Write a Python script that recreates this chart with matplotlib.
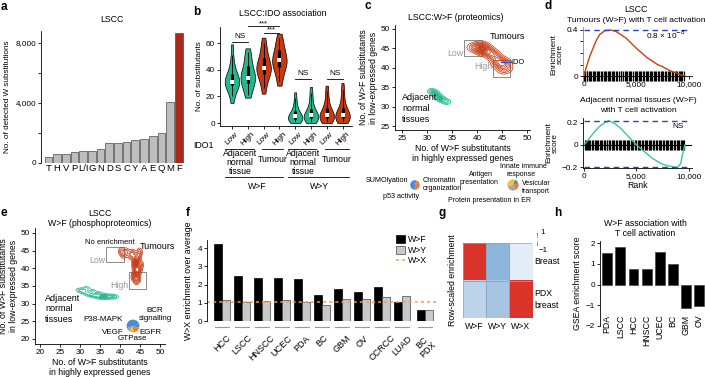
import numpy as np
import matplotlib
matplotlib.use("Agg")
import matplotlib.pyplot as plt
from matplotlib.lines import Line2D
from matplotlib.patches import Rectangle, Patch
from matplotlib.colors import LinearSegmentedColormap

plt.rcParams['font.family'] = ['Liberation Sans', 'DejaVu Sans']
plt.rcParams['font.size'] = 5.9
plt.rcParams['axes.linewidth'] = 0.6
plt.rcParams['xtick.major.width'] = 0.6
plt.rcParams['ytick.major.width'] = 0.6
plt.rcParams['xtick.major.size'] = 2
plt.rcParams['ytick.major.size'] = 2
plt.rcParams['xtick.major.pad'] = 1.5
plt.rcParams['ytick.major.pad'] = 1.5

# ---- data ----
# a: detected W substitutions (LSCC)
a_residues = ['T', 'H', 'V', 'P', 'L/I', 'G', 'N', 'D', 'S', 'C', 'Y', 'A', 'E', 'Q', 'M', 'F']
a_counts = [380, 580, 580, 715, 830, 830, 960, 1340, 1340, 1430, 1520, 1630, 1830, 1970, 4090, 8670]

# b: violin samples (no. of substitutants), order: W>F adj low/high, tumour low/high, W>Y same
b_samples = [
    [15, 22, 26, 28, 29, 30, 31, 31, 32, 33, 35, 38, 42, 48, 59],
    [19, 22, 26, 29, 31, 33, 34, 34, 36, 38, 41, 44, 48, 52, 56],
    [22, 28, 33, 36, 38, 40, 41, 41, 42, 44, 47, 50, 54, 58, 64],
    [28, 33, 37, 41, 43, 45, 46, 47, 48, 50, 53, 56, 59, 62, 67],
    [0, 1, 2, 3, 3, 4, 4, 5, 5, 6, 8, 10, 13, 17, 23],
    [0, 1, 2, 3, 4, 5, 5, 6, 6, 7, 9, 12, 16, 21, 27],
    [0, 1, 2, 3, 4, 5, 6, 6, 7, 8, 10, 13, 17, 22, 28],
    [0, 1, 2, 3, 4, 5, 6, 6, 7, 8, 10, 13, 18, 23, 30],
]
b_ticklabels = ['Low', 'High'] * 4

# c: proteomics sample positions (high-expr, low-expr)
c_tum_x = [39.0, 39.8, 40.5, 41.0, 41.5, 42.0, 42.5, 43.0, 43.5, 44.0, 44.5, 45.0, 45.5, 46.0, 45.2, 44.8, 41.2, 40.8, 42.8, 43.8, 45.8, 40.6, 41.4, 44.2]
c_tum_y = [45.2, 45.5, 45.0, 45.8, 44.5, 44.8, 44.0, 43.5, 43.0, 42.5, 41.8, 41.0, 40.5, 39.8, 39.3, 41.2, 44.2, 44.6, 43.8, 42.0, 41.5, 45.2, 45.3, 40.6]
c_adj_x = [30.8, 31.2, 31.5, 32.0, 32.3, 32.7, 33.0, 33.5, 34.0, 31.8, 32.5]
c_adj_y = [34.0, 33.5, 33.8, 33.0, 32.5, 32.0, 31.8, 31.5, 31.2, 33.2, 32.2]
c_pie1 = [55, 45]
c_pie2 = [35, 30, 20, 15]

# d: running enrichment scores
d_tum_rank = [0, 200, 540, 1170, 1490, 2000, 2500, 3000, 3500, 4000, 4500, 5000, 5500, 6000, 6500, 7000, 7500, 8000, 8500, 9000, 9500]
d_tum_es = [0, 0.07, 0.17, 0.31, 0.36, 0.395, 0.40, 0.39, 0.36, 0.33, 0.285, 0.24, 0.20, 0.16, 0.13, 0.10, 0.08, 0.055, 0.035, 0.02, 0]
d_adj_rank = [0, 500, 1000, 1500, 2000, 2400, 3000, 3500, 4000, 4500, 5000, 5500, 6000, 6500, 7000, 7500, 8000, 8500, 8900, 9200, 9400, 9600]
d_adj_es = [0, 0.06, 0.12, 0.17, 0.205, 0.22, 0.19, 0.15, 0.10, 0.05, 0.0, -0.04, -0.08, -0.12, -0.15, -0.175, -0.19, -0.20, -0.205, -0.17, -0.08, 0]
d_hits_tum = [40, 130, 260, 330, 470, 610, 700, 820, 980, 1090, 1200, 1370, 1450, 1610, 1700, 1880, 2010, 2090, 2250, 2400, 2480,
              2620, 2790, 2900, 3050, 3170, 3310, 3480, 3560, 3720, 3880, 3990, 4100, 4280, 4390, 4520, 4690, 4810, 4940, 5070,
              5220, 5300, 5470, 5590, 5730, 5880, 5960, 6120, 6270, 6350, 6510, 6660, 6790, 6880, 7050, 7180, 7290, 7450, 7560,
              7720, 7850, 7990, 8080, 8230, 8380, 8470, 8620, 8770, 8880, 9010, 9150, 9270, 9380, 9500]
d_hits_adj = [60, 170, 240, 390, 520, 590, 760, 850, 1010, 1130, 1260, 1340, 1500, 1640, 1730, 1860, 2030, 2150, 2220, 2380, 2520,
              2640, 2730, 2880, 3020, 3140, 3290, 3390, 3540, 3680, 3790, 3930, 4060, 4190, 4330, 4440, 4580, 4700, 4860, 4970,
              5120, 5250, 5380, 5490, 5640, 5780, 5900, 6030, 6170, 6300, 6420, 6580, 6700, 6840, 6960, 7110, 7230, 7370, 7490,
              7640, 7780, 7900, 8030, 8170, 8290, 8420, 8560, 8690, 8820, 8950, 9090, 9210, 9340, 9460, 9570]

# e: phosphoproteomics sample positions
e_tum_x = [40.3, 40.9, 41.6, 42.6, 43.2, 43.6, 44.0, 44.2, 44.4, 44.0, 43.8, 44.5, 44.1, 43.7, 44.3, 44.6, 43.9, 44.2, 44.8, 43.5, 45.2, 44.9]
e_tum_y = [44.8, 44.0, 44.6, 43.8, 44.2, 43.0, 42.0, 41.0, 40.0, 39.0, 38.0, 37.2, 36.5, 40.5, 42.5, 43.5, 41.5, 38.5, 39.5, 37.5, 41.0, 44.6]
e_adj_x = [30.0, 30.8, 31.6, 32.5, 33.2, 34.0, 34.8, 35.5, 36.2, 37.0, 37.8, 38.6, 31.5, 33.0, 34.5, 36.0]
e_adj_y = [33.8, 33.5, 33.0, 32.6, 32.4, 32.2, 32.0, 31.8, 32.0, 31.8, 32.1, 31.9, 34.2, 33.4, 32.8, 32.3]
e_pie = [60, 20, 10, 10]

# f: W>X enrichment over average
f_cancers = ['HCC', 'LSCC', 'HNSCC', 'UCEC', 'PDA', 'BC', 'GBM', 'OV', 'CCRCC', 'LUAD', 'BC\nPDX']
f_wf = [4.2, 2.45, 2.35, 2.35, 2.32, 1.45, 1.75, 1.6, 1.85, 1.05, 0.6]
f_wy = [1.15, 1.05, 1.12, 1.15, 1.05, 0.88, 1.2, 1.2, 1.3, 1.35, 0.58]
f_wx = 1.05

# g: row-scaled enrichment
g_cols = ['W>F', 'W>Y', 'W>X']
g_rows = ['Breast', 'PDX\nbreast']
g_vals = [[1.0, -0.55, -0.1],
          [-0.3, -0.42, 1.0]]

# h: GSEA enrichment score
h_cancers = ['PDA', 'LSCC', 'HCC', 'HNSCC', 'UCEC', 'BC', 'GBM', 'OV']
h_scores = [1.5, 1.8, 0.75, 0.75, 1.55, 0.98, -1.15, -1.05]

GREEN = '#25b68c'
RED = '#c53a12'
DARKRED = '#a8281a'
BLUE = '#2b3fc0'
PIE_COLS = ['#4a8fd6', '#ef7d3a', '#f8c12d', '#a6a6a6']

W, H = 705, 377
fig = plt.figure(figsize=(7.05, 3.77), dpi=100)


def px_axes(l, t, r, b):
    return fig.add_axes([l / W, 1 - b / H, (r - l) / W, (b - t) / H])


def ftext(x, y, s, **kw):
    kw.setdefault('ha', 'center')
    kw.setdefault('va', 'center')
    fig.text(x / W, 1 - y / H, s, **kw)


def fline(x1, x2, y, color='black', lw=0.6):
    fig.add_artist(Line2D([x1 / W, x2 / W], [1 - y / H, 1 - y / H],
                          transform=fig.transFigure, color=color, lw=lw))


def kde(xs, ys, xlim, ylim, bw):
    xg = np.linspace(xlim[0], xlim[1], 260)
    yg = np.linspace(ylim[0], ylim[1], 260)
    X, Y = np.meshgrid(xg, yg)
    Z = np.zeros_like(X)
    for x, y in zip(xs, ys):
        Z += np.exp(-((X - x) ** 2 / (2 * bw[0] ** 2) + (Y - y) ** 2 / (2 * bw[1] ** 2)))
    return X, Y, Z


def density(ax, xs, ys, color, bw, nlev=7):
    X, Y, Z = kde(xs, ys, ax.get_xlim(), ax.get_ylim(), bw)
    levels = np.linspace(0.1, 0.95, nlev) * Z.max()
    ax.contour(X, Y, Z, levels=levels, colors=color, linewidths=0.55)
    ax.contourf(X, Y, Z, levels=[levels[-2], Z.max() * 1.01], colors=color, alpha=0.85)


def clean(ax):
    ax.spines['top'].set_visible(False)
    ax.spines['right'].set_visible(False)


for lab, x, y in [('a', 4, 7), ('b', 197, 12), ('c', 368, 6), ('d', 548, 6),
                  ('e', 4, 213), ('f', 188, 213), ('g', 442, 213), ('h', 558, 213)]:
    ftext(x, y, lab, fontsize=8.5, fontweight='bold')

# ---- a ----
ax = px_axes(41, 31, 184, 163)
clean(ax)
ax.spines['bottom'].set_visible(False)
xa = np.arange(len(a_counts))
cols = ['#bdbdbd'] * (len(a_counts) - 1) + [DARKRED]
ax.bar(xa, a_counts, width=0.88, color=cols, edgecolor='#4a4a4a', lw=0.5)
ax.set_xlim(-0.85, 15.6)
ax.set_ylim(0, 8800)
ax.set_yticks([0, 2000, 4000, 6000, 8000])
ax.set_yticklabels(['0', '', '4,000', '', '8,000'])
ax.set_xticks(xa)
ax.set_xticklabels(a_residues, fontsize=6.8)
ax.tick_params(axis='x', length=0, pad=1)
ax.set_ylabel('No. of detected W substitutions', labelpad=3)
ftext(112, 20, 'LSCC', fontsize=6.3)

# ---- b ----
ax = px_axes(220, 27, 352, 125.7)
clean(ax)
pos = np.arange(1, 9)
vp = ax.violinplot(b_samples, positions=pos, widths=0.92, showextrema=False, bw_method=0.55)
for i, body in enumerate(vp['bodies']):
    body.set_facecolor(GREEN if i in (0, 1, 4, 5) else RED)
    body.set_edgecolor('black')
    body.set_linewidth(0.5)
    body.set_alpha(1)
for p, s in zip(pos, b_samples):
    lo, q1, med, q3, hi = np.percentile(s, [5, 25, 50, 75, 95])
    ax.vlines(p, lo, hi, color='black', lw=0.6)
    ax.vlines(p, q1, q3, color='black', lw=2.2)
    ax.plot(p, med, 's', color='white', ms=2.4, mew=0)
ax.set_xlim(0.24, 8.6)
ax.set_ylim(-2, 72)
ax.set_yticks([0, 20, 40, 60])
ax.set_xticks(pos)
ax.set_xticklabels(b_ticklabels, rotation=45)
ax.set_ylabel('No. of substitutants', labelpad=2)
for x1, x2, y, txt in [(1, 2, 60.5, 'NS'), (5, 6, 33, 'NS'), (7, 8, 33, 'NS')]:
    ax.plot([x1, x2], [y, y], color='black', lw=0.6)
    ax.text((x1 + x2) / 2, y + 1.5, txt, ha='center', va='bottom')
ax.plot([3, 4], [67.5, 67.5], color='black', lw=0.6, clip_on=False)
ax.text(3.5, 67.0, '***', ha='center', va='bottom', fontsize=5.5, clip_on=False)
ax.plot([2, 4], [72.5, 72.5], color='black', lw=0.6, clip_on=False)
ax.text(3, 72.0, '***', ha='center', va='bottom', fontsize=5.5, clip_on=False)
ftext(283, 14, 'LSCC:IDO association', fontsize=6.3)
ftext(204, 145, 'IDO1', fontsize=6.3)
for cx, ca, ct, gx, gname in [(240, (225, 254), (262, 283), 257, 'W>F'),
                              (303, (288, 316), (325, 349), 320, 'W>Y')]:
    fline(ca[0], ca[1], 149)
    fline(ct[0], ct[1], 149)
    ftext(cx, 163, 'Adjacent\nnormal\ntissue', linespacing=1.0, fontsize=6.3)
    ftext((ct[0] + ct[1]) / 2, 160, 'Tumour', fontsize=6.3)
    fline(ca[0], ct[1], 177)
    ftext(gx, 186, gname, fontsize=6.3)

# ---- c ----
ax = px_axes(395, 25, 530, 130)
clean(ax)
ax.set_xlim(23.6, 50.6)
ax.set_ylim(23.97, 51.03)
ax.set_xticks([25, 30, 35, 40, 45, 50])
ax.set_yticks([25, 30, 35, 40, 45, 50])
density(ax, c_adj_x, c_adj_y, GREEN, (0.45, 0.4), 6)
density(ax, c_tum_x, c_tum_y, RED, (0.85, 0.75), 10)
ax.add_patch(Rectangle((37.4, 43.0), 3.6, 4.2, fill=False, ec='#777', lw=0.6))
ax.add_patch(Rectangle((43.2, 37.6), 3.4, 4.4, fill=False, ec='#777', lw=0.6))
ax.plot([44.8, 46.8], [41.4, 41.4], color='#3d4fd0', lw=1.0)
ax.text(46.9, 41.4, 'IDO', va='center', ha='left', fontsize=5.3, clip_on=False)
ax.text(37.2, 43.8, 'Low', color='#999', ha='right', va='center', fontsize=6.3)
ax.text(43.0, 40.4, 'High', color='#999', ha='right', va='center', fontsize=6.3)
ax.text(42.6, 48.0, 'Tumours', ha='left', va='center', fontsize=6.5)
ax.text(25.0, 33.5, 'Adjacent\nnormal\ntissues', ha='left', va='top', fontsize=6.5, linespacing=1.25)
ax.set_xlabel('No. of W>F substitutants\nin highly expressed genes', labelpad=1.5, fontsize=6.3)
ax.set_ylabel('No. of W>F substitutants\nin low-expressed genes', labelpad=2, fontsize=6.3)
ftext(456, 17, 'LSCC:W>F (proteomics)', fontsize=6.3)

pa = px_axes(409, 179, 421, 191)
pa.pie(c_pie1, colors=[PIE_COLS[0], PIE_COLS[1]], startangle=70)
ftext(408, 180, 'SUMOlyation', ha='right', fontsize=5.2)
ftext(423, 185, 'Chromatin\norganization', ha='left', fontsize=5.2)
ftext(401, 196, 'p53 activity', fontsize=5.2)
pa = px_axes(506, 178, 520, 192)
pa.pie(c_pie2, colors=[PIE_COLS[2], PIE_COLS[3], PIE_COLS[1], PIE_COLS[0]], startangle=70)
ftext(481, 174, 'Antigen', fontsize=5.0)
ftext(479, 182, 'presentation', fontsize=5.0)
ftext(500, 166, 'Innate immune', ha='left', fontsize=5.0)
ftext(521, 174, 'response', fontsize=5.0)
ftext(522, 188, 'Vesicular\ntransport', ha='left', fontsize=5.0)
ftext(489, 200, 'Protein presentation in ER', fontsize=5.0)

# ---- d ----
ax = px_axes(583, 27, 692, 82)
clean(ax)
ax.spines['bottom'].set_position(('data', 0))
ax.spines['left'].set_color('#888')
ax.set_xlim(-95, 10286)
ax.set_ylim(-0.052, 0.426)
ax.vlines(d_hits_tum, -0.045, 0.045, color='black', lw=0.9)
ax.plot(d_tum_rank, d_tum_es, color='#c8400e', lw=1.0)
ax.plot([0, 10000], [0.4, 0.4], color=BLUE, lw=1.0, dashes=(4, 3))
ax.set_yticks([0, 0.1, 0.2, 0.3, 0.4])
ax.set_yticklabels(['0', '', '', '', '0.4'])
ax.set_xticks([0, 5000, 10000])
ax.set_xticklabels(['0', '5,000', '10,000'])
ax.text(9700, 0.355, '0.8 × 10$^{-8}$', ha='right', va='center')
ax.set_ylabel('Enrichment\nscore', labelpad=2, linespacing=1.0)
ftext(636, 10, 'LSCC', fontsize=6.3)
ftext(636, 20, 'Tumours (W>F) with T cell activation', fontsize=6.1)

ax = px_axes(583, 118, 692, 168)
clean(ax)
ax.set_xlim(-95, 10286)
ax.set_ylim(-0.209, 0.245)
ax.axhline(0, color='black', lw=0.8)
ax.vlines(d_hits_adj, -0.045, 0.045, color='black', lw=0.9)
ax.plot(d_adj_rank, d_adj_es, color='#3cc49b', lw=1.0)
ax.plot([0, 10000], [0.22, 0.22], color=BLUE, lw=1.0, dashes=(4, 3))
ax.plot([0, 10000], [-0.2, -0.2], color=BLUE, lw=1.0, dashes=(4, 3))
ax.set_yticks([-0.2, 0, 0.2])
ax.set_yticklabels(['−0.2', '0', '0.2'])
ax.set_xticks([0, 5000, 10000])
ax.set_xticklabels(['0', '5,000', '10,000'])
ax.text(9500, 0.17, 'NS', ha='right', va='center')
ax.set_ylabel('Enrichment\nscore', labelpad=2, linespacing=1.0)
ax.set_xlabel('Rank', labelpad=0.5, fontsize=6.3)
ftext(638, 100, 'Adjacent normal tissues (W>F)', fontsize=6.1)
ftext(638, 111, 'with T cell activation', fontsize=6.1)

# ---- e ----
ax = px_axes(35, 228, 165, 344)
clean(ax)
ax.set_xlim(18.75, 51.25)
ax.set_ylim(18.55, 51.4)
ax.set_xticks([20, 25, 30, 35, 40, 45, 50])
ax.set_yticks([20, 25, 30, 35, 40, 45, 50])
density(ax, e_adj_x, e_adj_y, GREEN, (0.6, 0.35), 6)
density(ax, e_tum_x, e_tum_y, RED, (0.45, 0.75), 9)
ax.add_patch(Rectangle((36.5, 41.8), 4.5, 4.2, fill=False, ec='#777', lw=0.6))
ax.add_patch(Rectangle((42.3, 34.1), 4.2, 4.9, fill=False, ec='#777', lw=0.6))
ax.text(36.3, 42.1, 'Low', color='#999', ha='right', va='center', fontsize=6.3)
ax.text(42.1, 35.0, 'High', color='#999', ha='right', va='center', fontsize=6.3)
ax.text(31.2, 47.4, 'No enrichment', ha='left', va='center', fontsize=5.5)
ax.text(44.9, 46.2, 'Tumours', ha='left', va='center', fontsize=6.5)
ax.text(21.3, 32.8, 'Adjacent\nnormal\ntissues', ha='left', va='top', fontsize=6.5, linespacing=1.25)
ax.text(40.8, 25.6, 'P38-MAPK', ha='right', va='center', fontsize=5.8)
ax.text(48.8, 26.8, 'BCR\nsignalling', ha='center', va='center', fontsize=5.8)
ax.text(41.0, 21.8, 'VEGF', ha='right', va='center', fontsize=5.8)
ax.text(44.8, 21.8, 'EGFR', ha='left', va='center', fontsize=5.8)
ax.text(43.0, 20.2, 'GTPase', ha='center', va='center', fontsize=5.8)
ax.set_xlabel('No. of W>F substitutants\nin highly expressed genes', labelpad=1.5, fontsize=6.3)
ax.set_ylabel('No. of W>F substitutants\nin low-expressed genes', labelpad=2, fontsize=6.3)
ftext(100, 213, 'LSCC', fontsize=6.3)
ftext(100, 224, 'W>F (phosphoproteomics)', fontsize=6.3)
pa = px_axes(125, 318, 141, 334)
pa.pie(e_pie, colors=[PIE_COLS[0], PIE_COLS[1], PIE_COLS[2], PIE_COLS[3]], startangle=200, counterclock=False)

# ---- f ----
ax = px_axes(207, 240, 437, 321)
clean(ax)
ax.spines['bottom'].set_visible(False)
fpos = np.array([0, 1, 2, 3, 4, 5, 6, 7, 8, 9, 10.15])
ax.bar(fpos - 0.2, f_wf, width=0.36, color='black', edgecolor='black', lw=0.5, label='W>F')
ax.bar(fpos + 0.2, f_wy, width=0.36, color='#c8c8c8', edgecolor='#444', lw=0.5, label='W>Y')
ax.axhline(f_wx, color='#f0a050', lw=1.1, dashes=(2, 2))
for p in fpos:
    ax.plot([p - 0.36, p + 0.36], [-0.33, -0.33], color='#999', lw=0.8, clip_on=False)
ax.set_xlim(-0.75, 10.75)
ax.set_ylim(0, 4.44)
ax.set_yticks([0, 1, 2, 3, 4])
ax.set_xticks(fpos)
ax.set_xticklabels(f_cancers, rotation=45, fontsize=6.5, linespacing=1.0)
ax.tick_params(axis='x', length=0, pad=9)
ax.set_ylabel('W>X enrichment over average', labelpad=3, fontsize=6.3)
handles = [Patch(fc='black', ec='black', lw=0.5), Patch(fc='#c8c8c8', ec='#444', lw=0.5),
           Line2D([0], [0], color='#f0a050', lw=1.1, dashes=(2, 2))]
fig.legend(handles, ['W>F', 'W>Y', 'W>X'], loc='upper left', bbox_to_anchor=(392 / W, 1 - 231 / H),
           frameon=False, fontsize=6.3, handlelength=1.0, handleheight=1.0, handletextpad=0.3,
           labelspacing=0.15, borderpad=0)

# ---- g ----
ax = px_axes(463, 243, 532, 318)
cmap = LinearSegmentedColormap.from_list('rb', ['#3d7fc1', '#f4f9fd', '#d9332a'])
im = ax.imshow(np.array(g_vals), cmap=cmap, vmin=-1, vmax=1, aspect='auto')
for i in range(len(g_rows)):
    for j in range(len(g_cols)):
        ax.add_patch(Rectangle((j - 0.5, i - 0.5), 1, 1, fill=False, ec='#8aa6bf', lw=0.5))
for s in ax.spines.values():
    s.set_visible(False)
ax.set_xticks(range(len(g_cols)))
ax.set_xticklabels(g_cols, fontsize=6.3)
ax.tick_params(length=0, pad=3)
ax.set_yticks([])
ax.set_ylabel('Row-scaled enrichment', labelpad=4, fontsize=6.3)
for i, r in enumerate(g_rows):
    ax.text(2.6, i, r, ha='left', va='center', fontsize=6.3, linespacing=1.4)
cax = px_axes(536.5, 233, 538, 246)
cb = fig.colorbar(im, cax=cax)
cb.outline.set_visible(False)
cb.set_ticks([])
ftext(540, 233, '1', ha='left', fontsize=5.8)
ftext(539, 251, '−1', ha='left', fontsize=5.8)

# ---- h ----
ax = px_axes(600, 241, 705, 326)
clean(ax)
ax.spines['bottom'].set_visible(False)
hpos = np.arange(len(h_scores))
ax.bar(hpos, h_scores, width=0.75, color='black', edgecolor='#333', lw=0.4)
ax.set_xlim(-0.55, 7.45)
ax.set_ylim(-2.0, 2.1)
ax.set_yticks([-2, -1, 0, 1, 2])
ax.set_xticks([])
for p, name in zip(hpos, h_cancers):
    ax.text(p, -1.45, name, rotation=90, ha='center', va='top', fontsize=6.3)
ax.set_ylabel('GSEA enrichment score', labelpad=3, fontsize=6.3)
ftext(645, 223, 'W>F association with', fontsize=6.3)
ftext(645, 234, 'T cell activation', fontsize=6.3)

fig.savefig('out.png', dpi=100)
